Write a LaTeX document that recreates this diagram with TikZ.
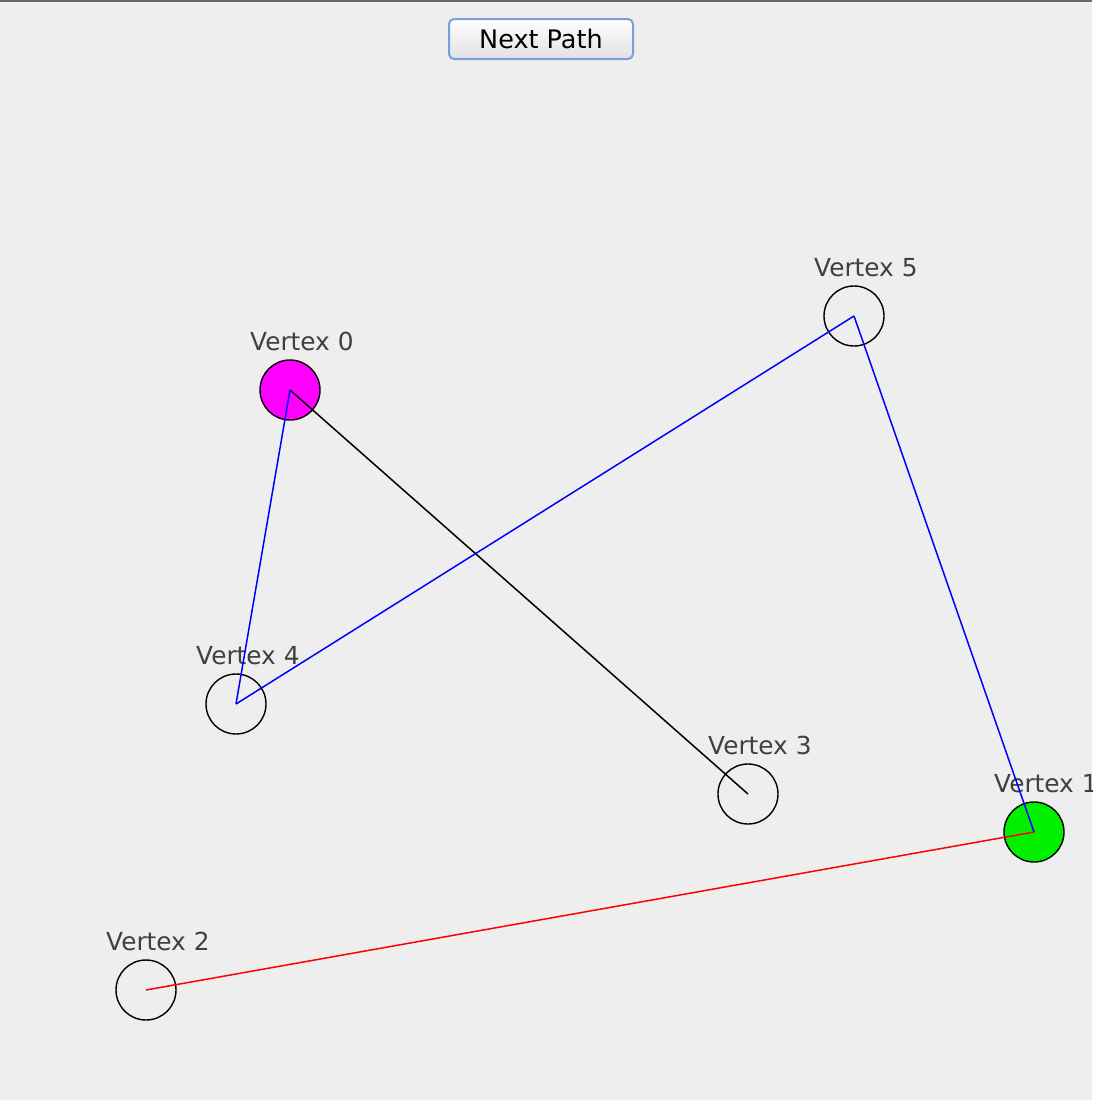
\documentclass[tikz,border=0pt]{standalone}
\usepackage{fontspec}
\setmainfont{DejaVu Sans}
\definecolor{bg}{RGB}{238,238,238}
\definecolor{lbl}{RGB}{64,64,64}
\definecolor{topbar}{RGB}{106,106,106}
\definecolor{btnborder}{RGB}{120,160,215}
\definecolor{btntop}{RGB}{255,255,255}
\definecolor{btnbot}{RGB}{225,225,225}
\definecolor{magent}{RGB}{255,0,255}
\definecolor{grn}{RGB}{0,240,0}
\begin{document}
\begin{tikzpicture}[x=1pt,y=-1pt,
  vtx/.style={circle,draw=black,line width=1.4pt,minimum size=60pt,inner sep=0pt},
  vlabel/.style={font=\fontsize{24.8}{28}\selectfont,text=lbl,anchor=base west,inner sep=0pt},
  edge/.style={line width=1.5pt},
  btn/.style={draw=btnborder,line width=2pt,rounded corners=5pt,top color=btntop,bottom color=btnbot,minimum width=184pt,minimum height=40pt,font=\fontsize{25.5}{28}\selectfont,text=black}]
\clip (0,0) rectangle (1092,1100);
\fill[bg] (0,0) rectangle (1092,1100);
\fill[topbar] (0,0) rectangle (1092,2);
\node[btn] (next) at (541,39) {Next Path};
% vertices
\node[vtx,fill=magent] (v0) at (290,390) {};
\node[vtx,fill=grn] (v1) at (1034,832) {};
\node[vtx] (v2) at (146,990) {};
\node[vtx] (v3) at (748,794) {};
\node[vtx] (v4) at (236,704) {};
\node[vtx] (v5) at (854,316) {};
% labels
\node[vlabel] (l0) at (250,350) {Vertex 0};
\node[vlabel] (l1) at (994,792) {Vertex 1};
\node[vlabel] (l2) at (106,950) {Vertex 2};
\node[vlabel] (l3) at (708,754) {Vertex 3};
\node[vlabel] (l4) at (196,664) {Vertex 4};
\node[vlabel] (l5) at (814,276) {Vertex 5};
% edges
\draw[edge,black] (v0.center) -- (v3.center);
\draw[edge,blue] (v0.center) -- (v4.center);
\draw[edge,blue] (v4.center) -- (v5.center);
\draw[edge,blue] (v5.center) -- (v1.center);
\draw[edge,red] (v1.center) -- (v2.center);
\end{tikzpicture}
\end{document}
